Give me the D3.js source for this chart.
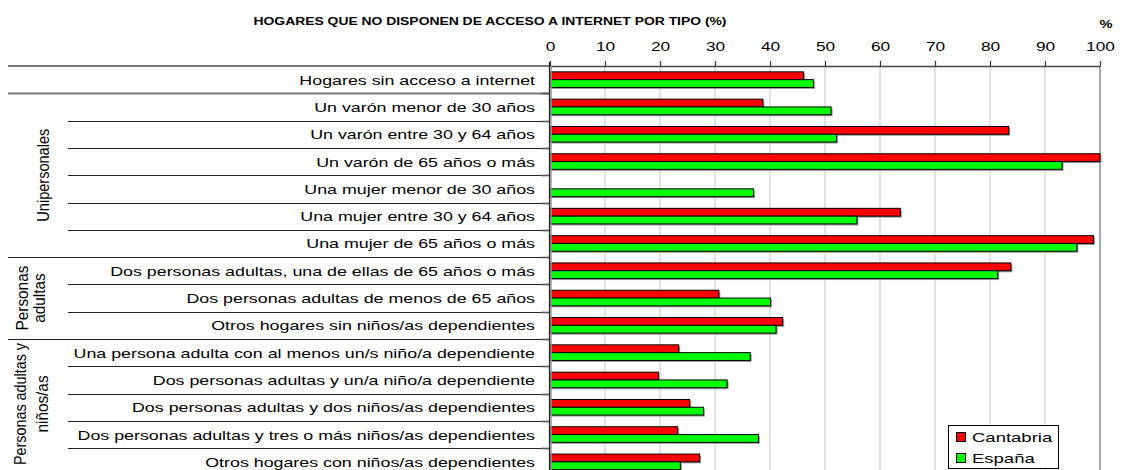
<!DOCTYPE html>
<html>
<head>
<meta charset="utf-8">
<script src="https://cdn.jsdelivr.net/npm/d3@7"></script>
<style>
  html, body { margin: 0; padding: 0; background: #fff; }
  svg { display: block; font-family: Arial, "Liberation Sans", sans-serif; }
</style>
</head>
<body>
<svg id="chart" width="1126" height="470"></svg>
<script>
// Household types (rows, top to bottom)
const categories = [
  "Hogares sin acceso a internet",
  "Un varón menor de 30 años",
  "Un varón entre 30 y 64 años",
  "Un varón de 65 años o más",
  "Una mujer menor de 30 años",
  "Una mujer entre 30 y 64 años",
  "Una mujer de 65 años o más",
  "Dos personas adultas, una de ellas de 65 años o más",
  "Dos personas adultas de menos de 65 años",
  "Otros hogares sin niños/as dependientes",
  "Una persona adulta con al menos un/s niño/a dependiente",
  "Dos personas adultas y un/a niño/a dependiente",
  "Dos personas adultas y dos niños/as dependientes",
  "Dos personas adultas y tres o más niños/as dependientes",
  "Otros hogares con niños/as dependientes"
];

// Row groups: label lines, first and last row index
const groupLabels = [["Unipersonales"], ["Personas", "adultas"], ["Personas adultas y", "niños/as"]];
const groupStart = [1, 7, 10];
const groupEnd = [6, 9, 14];

// Percentages
const cantabria = [46.1, 38.7, 83.4, 100, null, 63.7, 98.8, 83.8, 30.7, 42.3, 23.4, 19.7, 25.4, 23.2, 27.2];
const espana    = [47.9, 51.1, 52.1, 93.1, 37.0, 55.8, 95.8, 81.4, 40.1, 41.1, 36.4, 32.2, 27.9, 37.9, 23.7];

const seriesNames = ["Cantabria", "España"];
const seriesColors = ["#ff0000", "#00ff00"];
const xTicks = [0, 10, 20, 30, 40, 50, 60, 70, 80, 90, 100];

// Wide text rendering: stretch each text horizontally by a factor
const WIDE = 1.37;
function widen(sel, factor) {
  sel.each(function () {
    const w = this.getComputedTextLength();
    d3.select(this).attr("textLength", w * factor).attr("lengthAdjust", "spacingAndGlyphs");
  });
}

const svg = d3.select("#chart");

const x = d3.scaleLinear().domain([0, 100]).range([550, 1100]);
const y = d3.scaleBand().domain(categories).range([66, 475.5]).padding(0);
const ySub = d3.scaleBand().domain(seriesNames).range([0, y.bandwidth()])
  .paddingInner(0).paddingOuter(0.75);

// Title
svg.append("text")
  .attr("x", 490).attr("y", 24.5)
  .attr("text-anchor", "middle")
  .style("font-weight", "bold").style("font-size", "11.3px")
  .text("HOGARES QUE NO DISPONEN DE ACCESO A INTERNET POR TIPO (%)")
  .attr("textLength", 473).attr("lengthAdjust", "spacingAndGlyphs");

svg.append("text")
  .attr("x", 1106).attr("y", 28)
  .attr("text-anchor", "middle")
  .style("font-weight", "bold").style("font-size", "11.3px")
  .text("%")
  .call(widen, 1.3);

// Vertical gridlines
svg.append("g").selectAll("line")
  .data(xTicks.filter(d => d > 0))
  .join("line")
  .attr("x1", d => x(d)).attr("x2", d => x(d))
  .attr("y1", 66).attr("y2", 470)
  .attr("stroke", d => d === 100 ? "#a8a8a8" : "#cfcfcf")
  .attr("stroke-width", d => d === 100 ? 2 : 1.2);

// Top value axis
const xAxis = svg.append("g")
  .attr("transform", "translate(0,66)")
  .call(d3.axisTop(x).tickValues(xTicks).tickSize(5).tickPadding(10).tickSizeOuter(0));
xAxis.select(".domain").attr("stroke", "#444").attr("stroke-width", 1.5);
xAxis.selectAll(".tick line").attr("stroke", "#333").attr("stroke-width", 1.2);
xAxis.selectAll(".tick text")
  .style("font-size", "13px").style("font-family", "Arial, 'Liberation Sans', sans-serif")
  .attr("fill", "#000")
  .call(widen, 1.33);

// Row separators in the label area
const boundaries = categories.map((c, i) => ({ i, yy: y(c) + y.bandwidth() }));
const groupBoundary = new Set([0, 6, 9]);
svg.append("g").selectAll("line")
  .data(boundaries.filter(b => b.i < categories.length - 1))
  .join("line")
  .attr("x1", b => groupBoundary.has(b.i) ? 8 : 68)
  .attr("x2", 549)
  .attr("y1", b => Math.round(b.yy) + 0.5).attr("y2", b => Math.round(b.yy) + 0.5)
  .attr("stroke", b => b.i === 0 ? "#7a7a7a" : "#222")
  .attr("stroke-width", b => b.i === 0 ? 2 : 1);

// Top line of the label area
svg.append("line")
  .attr("x1", 8).attr("x2", 549).attr("y1", 66).attr("y2", 66)
  .attr("stroke", "#7a7a7a").attr("stroke-width", 2);

// Ticks on the category axis
svg.append("g").selectAll("line")
  .data(boundaries.filter(b => b.i < categories.length - 1))
  .join("line")
  .attr("x1", 541).attr("x2", 550)
  .attr("y1", b => Math.round(b.yy) + 0.5).attr("y2", b => Math.round(b.yy) + 0.5)
  .attr("stroke", "#555").attr("stroke-width", 1.6);

// Bars with a soft drop shadow
const rows = categories.map((c, i) => ({ c, vals: [cantabria[i], espana[i]] }));
const barData = [];
rows.forEach(r => r.vals.forEach((v, k) => {
  if (v !== null) barData.push({ c: r.c, s: seriesNames[k], v, color: seriesColors[k] });
}));

svg.append("g").selectAll("rect")
  .data(barData)
  .join("rect")
  .attr("x", x(0) + 1.5)
  .attr("y", d => y(d.c) + ySub(d.s) + 1.5)
  .attr("width", d => x(d.v) - x(0))
  .attr("height", ySub.bandwidth())
  .attr("fill", "#9a9a9a");

svg.append("g").selectAll("rect")
  .data(barData)
  .join("rect")
  .attr("x", x(0))
  .attr("y", d => y(d.c) + ySub(d.s))
  .attr("width", d => x(d.v) - x(0))
  .attr("height", ySub.bandwidth())
  .attr("fill", d => d.color)
  .attr("stroke", "#000").attr("stroke-width", 1);

// Category axis line
svg.append("line")
  .attr("x1", 551).attr("x2", 551).attr("y1", 66).attr("y2", 470)
  .attr("stroke", "#999").attr("stroke-width", 1.5);
svg.append("line")
  .attr("x1", 549.5).attr("x2", 549.5).attr("y1", 62).attr("y2", 470)
  .attr("stroke", "#222").attr("stroke-width", 1.2);

// Category labels
svg.append("g").selectAll("text")
  .data(categories)
  .join("text")
  .attr("x", 535)
  .attr("y", d => y(d) + y.bandwidth() / 2 + 5)
  .attr("text-anchor", "end")
  .style("font-size", "13px")
  .text(d => d)
  .call(widen, WIDE);

// Group labels (rotated, drawn wide like the rest of the text)
const groupX = [[43], [22, 39], [20, 42]];
const groupLen = [93, 0, 122];
groupLabels.forEach((lines, g) => {
  const y0 = y(categories[groupStart[g]]);
  const y1 = y(categories[groupEnd[g]]) + y.bandwidth();
  const cy = Math.min((y0 + y1) / 2, 404);
  lines.forEach((t, j) => {
    const txt = svg.append("text")
      .attr("transform", `translate(${groupX[g][j] + 6},${cy}) scale(1.3,1) rotate(-90)`)
      .attr("text-anchor", "middle")
      .style("font-size", "13px")
      .text(t);
    const w = txt.node().getComputedTextLength();
    const len = (j === 0 && groupLen[g]) ? groupLen[g] : w * 1.18;
    txt.attr("textLength", len).attr("lengthAdjust", "spacingAndGlyphs");
  });
});

// Legend
const legend = svg.append("g");
legend.append("rect")
  .attr("x", 948.5).attr("y", 425.5).attr("width", 110).attr("height", 43)
  .attr("fill", "#fff").attr("stroke", "#000").attr("stroke-width", 1);
seriesNames.forEach((s, k) => {
  const cy = 437 + k * 21;
  legend.append("rect")
    .attr("x", 956.5).attr("y", cy - 4.5).attr("width", 9).attr("height", 9)
    .attr("fill", seriesColors[k]).attr("stroke", "#000").attr("stroke-width", 1);
  legend.append("text")
    .attr("x", 972).attr("y", cy + 5)
    .style("font-size", "13.5px")
    .text(s)
    .call(widen, WIDE);
});
</script>
</body>
</html>
